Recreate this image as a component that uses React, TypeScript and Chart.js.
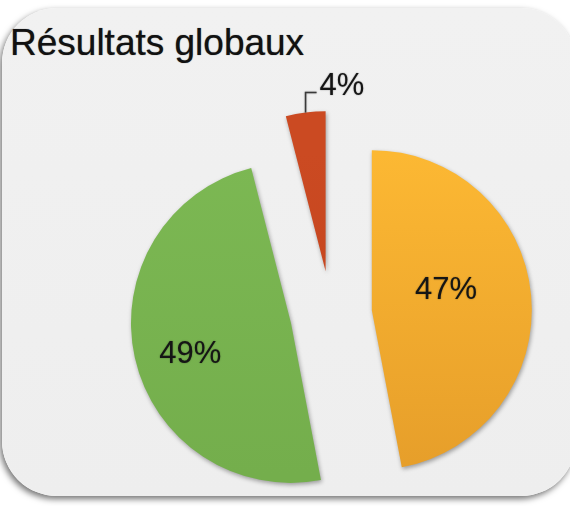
import { useEffect, useRef } from "react";
import { Chart, registerables } from "chart.js";

Chart.register(...registerables);

// ---- data ----
const TITLE = "Résultats globaux";
const categories = ["Catégorie 1", "Catégorie 2", "Catégorie 3"];
const values = [47, 49, 4];

// ---- style ----
const COLORS_TOP = ["#fcb833", "#7cb853", "#cb4a22"];
const COLORS_BOTTOM = ["#e69e2a", "#74ae4c", "#c0421c"];
const EXPLODE = [41, 41, 43];
const RADIUS = 160;
const LABEL_STYLE = [
  { outside: false, frac: 0.48, shift: -9.6 },
  { outside: false, frac: 0.66, shift: -4.8 },
  { outside: true, rise: 20, run: 11 },
];
const FONT = "'Liberation Sans', Arial, Helvetica, sans-serif";

const explodePlugin = {
  id: "explodeSlices",
  afterDatasetsUpdate(chart: any) {
    const meta = chart.getDatasetMeta(0);
    meta.data.forEach((arc: any, i: number) => {
      const mid = (arc.startAngle + arc.endAngle) / 2;
      arc.x += Math.cos(mid) * EXPLODE[i];
      arc.y += Math.sin(mid) * EXPLODE[i];
    });
  },
};

const shadowPlugin = {
  id: "sliceShadow",
  beforeDatasetsDraw(chart: any) {
    const ctx = chart.ctx;
    ctx.save();
    ctx.shadowColor = "rgba(0,0,0,0.35)";
    ctx.shadowBlur = 4;
    ctx.shadowOffsetX = 1;
    ctx.shadowOffsetY = 2;
  },
  afterDatasetsDraw(chart: any) {
    chart.ctx.restore();
  },
};

const labelPlugin = {
  id: "sliceLabels",
  afterDraw(chart: any) {
    const ctx = chart.ctx;
    const meta = chart.getDatasetMeta(0);
    meta.data.forEach((arc: any, i: number) => {
      const mid = (arc.startAngle + arc.endAngle) / 2;
      const st: any = LABEL_STYLE[i];
      const text = values[i] + "%";
      ctx.save();
      ctx.font = `31px ${FONT}`;
      ctx.fillStyle = "#151515";
      ctx.shadowColor = "rgba(0,0,0,0.45)";
      ctx.shadowBlur = 1.5;
      if (st.outside) {
        const x0 = arc.x + Math.cos(mid) * arc.outerRadius;
        const y0 = arc.y + Math.sin(mid) * arc.outerRadius;
        ctx.strokeStyle = "#3a3a3a";
        ctx.lineWidth = 1.5;
        ctx.beginPath();
        ctx.moveTo(x0, y0);
        ctx.lineTo(x0, y0 - st.rise);
        ctx.lineTo(x0 + st.run, y0 - st.rise);
        ctx.stroke();
        ctx.textAlign = "left";
        ctx.textBaseline = "alphabetic";
        ctx.fillText(text, x0 + st.run + 3, y0 - st.rise + 2);
      } else {
        const a = mid + (st.shift * Math.PI) / 180;
        const r = arc.outerRadius * st.frac;
        ctx.textAlign = "center";
        ctx.textBaseline = "middle";
        ctx.fillText(text, arc.x + Math.cos(a) * r, arc.y + Math.sin(a) * r);
      }
      ctx.restore();
    });
  },
};

export default function App() {
  const canvasRef = useRef<HTMLCanvasElement | null>(null);

  useEffect(() => {
    const canvas = canvasRef.current;
    if (!canvas) return;
    const chart = new Chart(canvas, {
      type: "pie",
      data: {
        labels: categories,
        datasets: [
          {
            data: values,
            borderWidth: 0,
            backgroundColor: (c: any) => {
              const ch = c.chart;
              const area = ch.chartArea;
              const i = c.dataIndex ?? 0;
              if (!area) return COLORS_TOP[i];
              const cy = (area.top + area.bottom) / 2;
              const g = ch.ctx.createLinearGradient(0, cy - RADIUS, 0, cy + RADIUS);
              g.addColorStop(0, COLORS_TOP[i]);
              g.addColorStop(1, COLORS_BOTTOM[i]);
              return g;
            },
          },
        ],
      },
      options: {
        responsive: false,
        animation: false,
        radius: RADIUS,
        layout: { padding: { left: 92, right: 0, top: 122, bottom: 0 } },
        plugins: {
          legend: { display: false },
          tooltip: { enabled: false },
          title: { display: false },
        },
      } as any,
      plugins: [explodePlugin, shadowPlugin, labelPlugin],
    });
    return () => chart.destroy();
  }, []);

  return (
    <div
      style={{
        position: "fixed",
        left: 0,
        top: 0,
        width: 570,
        height: 506,
        overflow: "hidden",
        background: "#ffffff",
      }}
    >
      <div
        style={{
          position: "absolute",
          left: 2,
          top: 8,
          width: 574,
          height: 488,
          borderRadius: 55,
          background: "linear-gradient(#f1f1f1, #eeeeee)",
          boxShadow: "-2px 3px 6px rgba(0,0,0,0.55)",
        }}
      />
      <div
        style={{
          position: "absolute",
          left: 10,
          top: 24,
          fontFamily: FONT,
          fontSize: 37,
          lineHeight: "37px",
          color: "#111",
          whiteSpace: "nowrap",
          textShadow: "0 0 1px rgba(0,0,0,0.6)",
        }}
      >
        {TITLE}
      </div>
      <canvas
        ref={canvasRef}
        width={570}
        height={506}
        style={{ position: "absolute", left: 0, top: 0, width: 570, height: 506 }}
      />
    </div>
  );
}
